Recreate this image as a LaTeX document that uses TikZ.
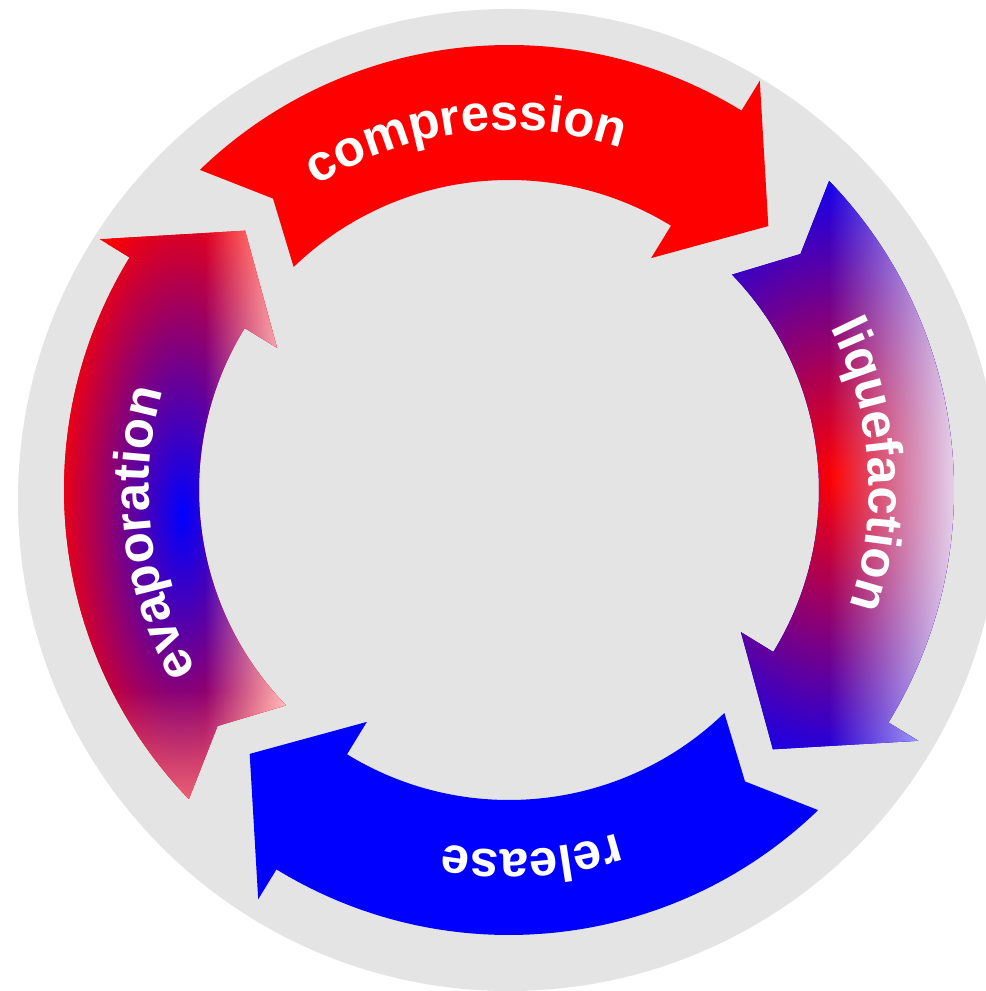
\documentclass[tikz,border=0pt]{standalone}
\usepackage{fontspec}
\newfontfamily\labelfont{Liberation Sans}
\usetikzlibrary{decorations.text}
\usetikzlibrary{fadings}

\definecolor{discgray}{HTML}{E4E4E4}

% white washes, opaque towards one side
\tikzfading[name=fade in east, left color=transparent!100, right color=transparent!15]
\tikzfading[name=fade in south, top color=transparent!100, bottom color=transparent!55]

% one curved arrow of the cycle, turned by #1 degrees (tail at #1+45)
\newcommand{\cyclearrow}[1]{(#1+45.5:445) arc[start angle=#1+45.5, end angle=#1-30, radius=445]
  -- (#1-30:480) -- (#1-43:370) -- (#1-30:272) -- (#1-30:310)
  arc[start angle=#1-30, end angle=#1+45.5, radius=310] -- (#1+40.5:375) -- cycle}
% baseline for a label, centred at #1 degrees
\newcommand{\labelpath}[1]{(#1+30:360) arc[start angle=#1+30, end angle=#1-30, radius=360]}

\begin{document}
\begin{tikzpicture}[x=0.02cm, y=0.02cm,
    cycle label/.style={decorate, decoration={text along path, text align=center,
      text color=white, text={|\labelfont\bfseries\fontsize{29}{29}\selectfont|#1}}}]

  % page and gray disc
  \useasboundingbox (0,0) rectangle (985,991);
  \fill[white] (0,0) rectangle (985,991);
  \fill[discgray] (509,491) circle (491);

  \begin{scope}[shift={(509,501)}]
    % plain arrows
    \fill[red] \cyclearrow{88.5};
    \fill[blue] \cyclearrow{-91.5};

    % liquefaction: red core on the inner side, paler outside
    \begin{scope}
      \clip \cyclearrow{-1.5};
      \fill[blue] (-509,-500) rectangle (476,490);
      \shade[inner color=red, outer color=blue] (326,13) ellipse [x radius=230, y radius=320];
      \fill[white, path fading=fade in east] (320,-360) rectangle (451,360);
    \end{scope}

    % evaporation: blue core, red rim, pale at both ends
    \begin{scope}
      \clip \cyclearrow{178.5};
      \fill[red] (-509,-500) rectangle (0,490);
      \shade[inner color=blue, outer color=red] (-327,-25) ellipse [x radius=130, y radius=330];
      \fill[white, path fading=fade in east] (-304,-360) rectangle (-209,360);
      \fill[white, path fading=fade in south] (-400,-200) rectangle (-150,-330);
    \end{scope}

    % labels
    \path[cycle label=compression] \labelpath{97};
    \path[cycle label=liquefaction] \labelpath{4};
    \path[cycle label=release] \labelpath{-86.5};
    \path[cycle label=evaporation] \labelpath{187};
  \end{scope}
\end{tikzpicture}
\end{document}
